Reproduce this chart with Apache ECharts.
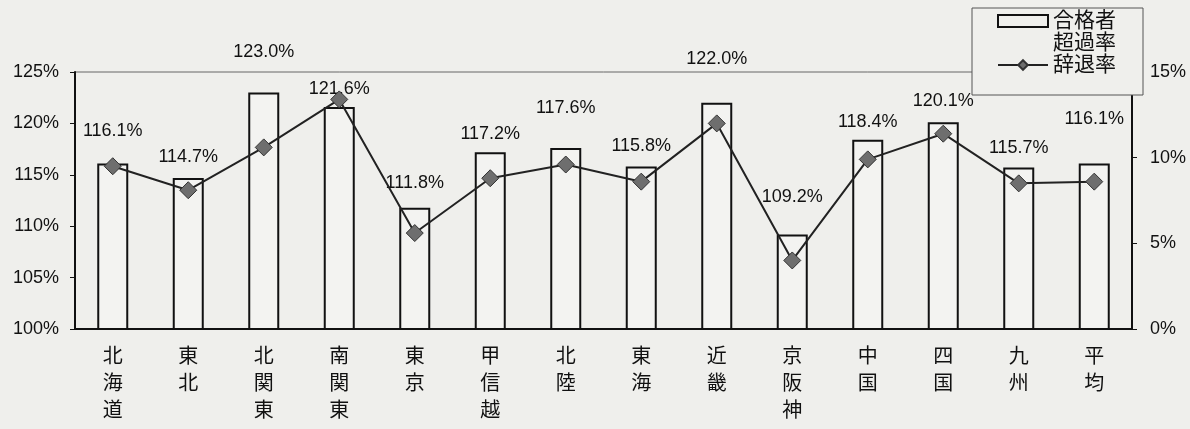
<!DOCTYPE html>
<html><head><meta charset="utf-8">
<script src="https://cdn.jsdelivr.net/npm/echarts@6/dist/echarts.min.js"></script>
<style>html,body{margin:0;padding:0;background:#efefec;}#c{width:1190px;height:429px;}</style>
</head><body><div id="c"></div>
<script>
const categories = ['北海道','東北','北関東','南関東','東京','甲信越','北陸','東海','近畿','京阪神','中国','四国','九州','平均'];
const excessRate = [116.1,114.7,123.0,121.6,111.8,117.2,117.6,115.8,122.0,109.2,118.4,120.1,115.7,116.1];
const declineRate = [9.5,8.1,10.6,13.4,5.6,8.8,9.6,8.6,12.0,4.0,9.9,11.4,8.5,8.6];
const leftTicks = {min:100, max:125, interval:5};
const rightTicks = {min:0, max:15, interval:5};
// label placement (style only)
const labelGap = [23,12,32,9,16,9,31,12,35,28,9,12,11,35];

const FONT = '"Liberation Sans", "Noto Sans CJK JP", sans-serif';
const chart = echarts.init(document.getElementById('c'));
chart.setOption({
  backgroundColor:'#efefec',
  animation:false,
  grid:{left:75,right:58,top:72,bottom:100,show:true,borderColor:'#666',borderWidth:1,backgroundColor:'transparent'},
  legend:{
    orient:'vertical', left:997, top:-12, padding:0, itemGap:0, z:10,
    itemWidth:50, itemHeight:12,
    textStyle:{fontFamily:FONT,fontSize:21,lineHeight:22,color:'#111'},
    data:[
      {name:'合格者超過率', icon:'rect', itemStyle:{color:'transparent',borderColor:'#111',borderWidth:2}},
      {name:'辞退率'}
    ],
    formatter: n => n === '合格者超過率' ? '\n合格者\n超過率' : n
  },
  graphic:[{type:'rect',shape:{x:972,y:8,width:171,height:87},style:{fill:'#efefec',stroke:'#555',lineWidth:1},z:3}],
  xAxis:{
    type:'category', data:categories, boundaryGap:true,
    axisLine:{lineStyle:{color:'#111',width:2}},
    axisTick:{inside:true,length:5,lineStyle:{color:'#111'}},
    axisLabel:{fontFamily:FONT,fontSize:20,lineHeight:27,color:'#111',margin:15,
      formatter:v=>v.split('').join('\n')}
  },
  yAxis:[
    {type:'value',min:leftTicks.min,max:leftTicks.max,interval:leftTicks.interval,
     axisLine:{show:true,lineStyle:{color:'#111',width:2}},
     axisTick:{show:true,length:5,lineStyle:{color:'#111'}},
     splitLine:{show:false},
     axisLabel:{formatter:'{value}%',fontFamily:FONT,fontSize:18,color:'#111',margin:16}},
    {type:'value',min:rightTicks.min,max:rightTicks.max,interval:rightTicks.interval,
     axisLine:{show:true,lineStyle:{color:'#111',width:2}},
     axisTick:{show:true,length:5,lineStyle:{color:'#111'}},
     splitLine:{show:false},
     axisLabel:{formatter:'{value}%',fontFamily:FONT,fontSize:18,color:'#111',margin:18,padding:[6,0,0,0]}}
  ],
  series:[
    {name:'合格者超過率',type:'bar',yAxisIndex:0,barWidth:31,
     itemStyle:{color:'rgba(255,255,255,0.25)',borderColor:'#111',borderWidth:2},
     data:excessRate.map((v,i)=>({value:v,label:{distance:labelGap[i]}})),
     label:{show:true,position:'top',fontFamily:FONT,fontSize:18,color:'#111',
       formatter:p=>p.value.toFixed(1)+'%'}},
    {name:'辞退率',type:'line',yAxisIndex:1,data:declineRate,
     symbol:'diamond',symbolSize:17,
     lineStyle:{color:'#222',width:2},
     itemStyle:{color:'#6e6e6e',borderColor:'#333',borderWidth:1},z:5}
  ]
});
</script></body></html>
